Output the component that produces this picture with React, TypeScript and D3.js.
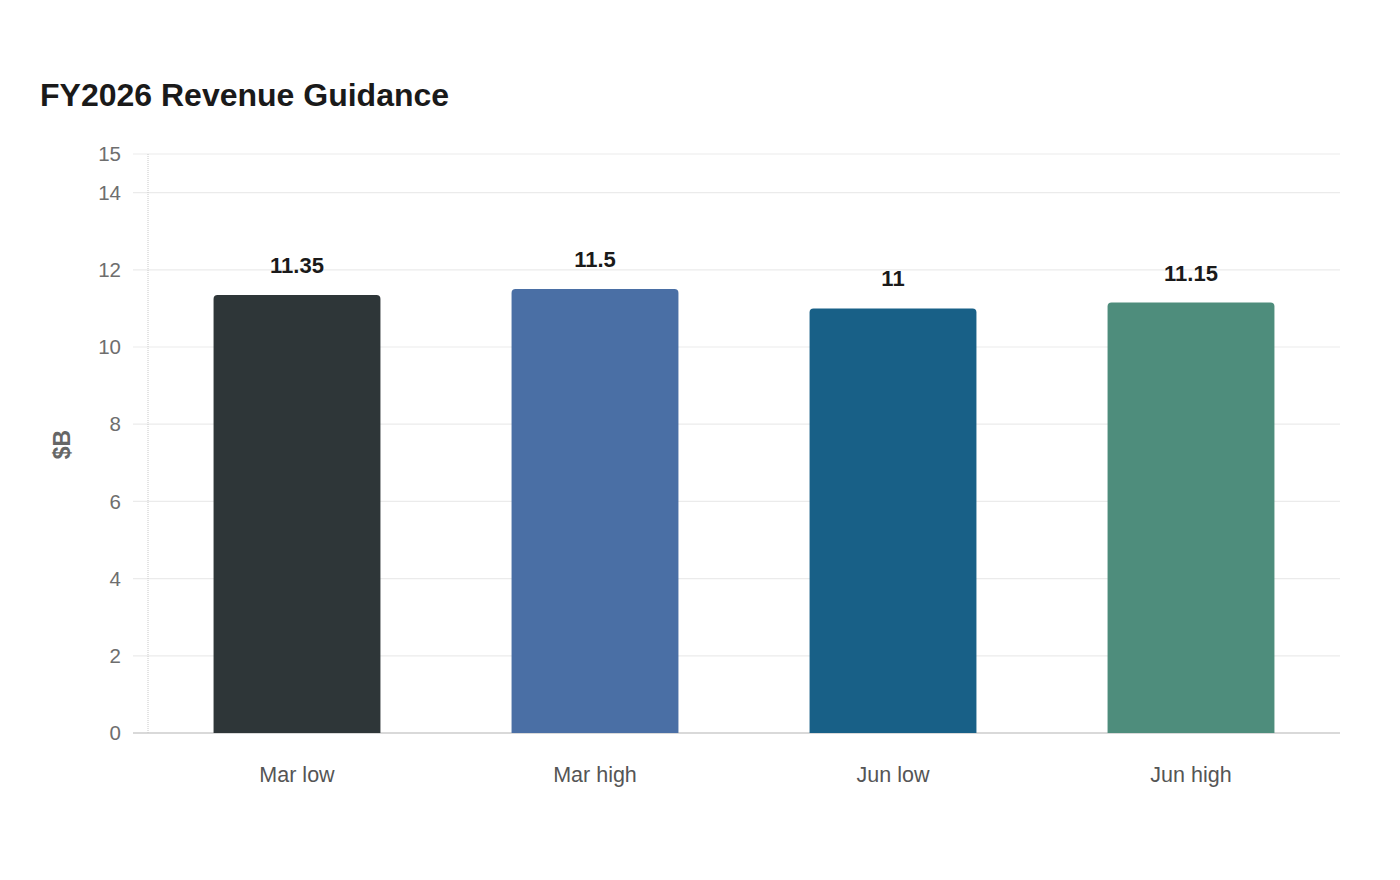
import React from "react";
import * as d3 from "d3";

const categories = ["Mar low", "Mar high", "Jun low", "Jun high"];
const values = [11.35, 11.5, 11, 11.15];
const barColors = ["#2e3638", "#4a6fa5", "#186087", "#4e8d7c"];
const yTicks = [0, 2, 4, 6, 8, 10, 12, 14, 15];

const W = 1400;
const H = 880;
const margin = { left: 148, right: 60, top: 154, bottom: 147 };

export default function App() {
  const x = d3
    .scaleBand<string>()
    .domain(categories)
    .range([margin.left, W - margin.right])
    .padding(0);
  const y = d3
    .scaleLinear()
    .domain([0, 15])
    .range([H - margin.bottom, margin.top]);
  const barW = x.bandwidth() * 0.56;
  const r = 4;
  const font = "'Liberation Sans', Arial, sans-serif";

  const barPath = (x0: number, y0: number, w: number, h: number) => {
    const p = d3.path();
    p.moveTo(x0, y0 + h);
    p.lineTo(x0, y0 + r);
    p.arcTo(x0, y0, x0 + r, y0, r);
    p.lineTo(x0 + w - r, y0);
    p.arcTo(x0 + w, y0, x0 + w, y0 + r, r);
    p.lineTo(x0 + w, y0 + h);
    p.closePath();
    return p.toString();
  };

  return (
    <svg
      width={W}
      height={H}
      style={{ position: "absolute", left: 0, top: 0, background: "#fff" }}
      fontFamily={font}
    >
      <text x={40} y={106} fontSize={32} fontWeight="bold" fill="#1a1a1a">
        FY2026 Revenue Guidance
      </text>

      {yTicks.map((t) => (
        <g key={t}>
          <line
            x1={133}
            x2={W - margin.right}
            y1={y(t)}
            y2={y(t)}
            stroke={t === 0 ? "#cccccc" : "#ebebeb"}
            strokeWidth={t === 0 ? 1.5 : 1.2}
          />
          <text
            x={121}
            y={y(t)}
            dy="0.35em"
            textAnchor="end"
            fontSize={20.5}
            fill="#6e6e6e"
          >
            {t}
          </text>
        </g>
      ))}

      <line
        x1={margin.left}
        x2={margin.left}
        y1={y(15)}
        y2={y(0)}
        stroke="#c8c8c8"
        strokeWidth={1}
        strokeDasharray="1,1"
      />

      <text
        transform={`translate(70,${(y(0) + y(15)) / 2 + 1}) rotate(-90)`}
        textAnchor="middle"
        fontSize={23}
        fontWeight="bold"
        fill="#666666"
      >
        $B
      </text>

      {categories.map((c, i) => {
        const cx = (x(c) as number) + x.bandwidth() / 2;
        const top = y(values[i]);
        return (
          <g key={c}>
            <path
              d={barPath(cx - barW / 2, top, barW, y(0) - top)}
              fill={barColors[i]}
            />
            <text
              x={cx}
              y={top - 22}
              textAnchor="middle"
              fontSize={22}
              fontWeight="bold"
              fill="#1a1a1a"
            >
              {values[i]}
            </text>
            <text
              x={cx}
              y={y(0) + 49}
              textAnchor="middle"
              fontSize={21.5}
              fill="#555555"
            >
              {c}
            </text>
          </g>
        );
      })}
    </svg>
  );
}
